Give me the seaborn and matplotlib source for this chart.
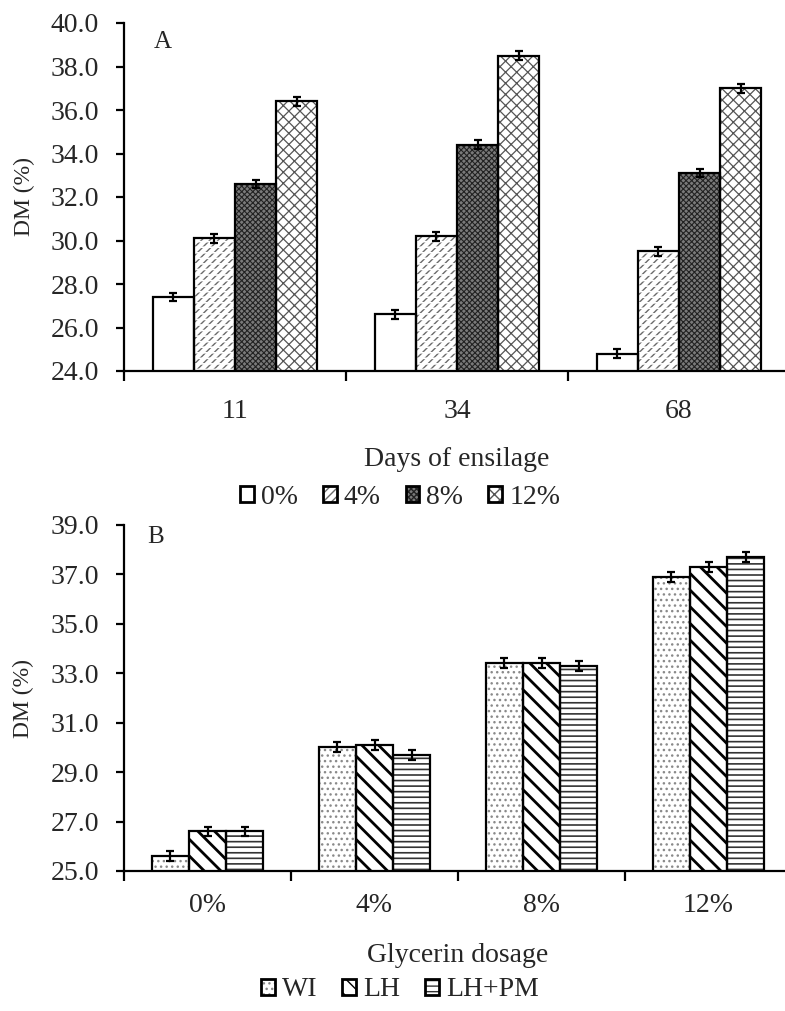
import numpy as np
import pandas as pd
import matplotlib
matplotlib.use("Agg")
import matplotlib.pyplot as plt
import seaborn as sns
from matplotlib.patches import Patch, Rectangle
from matplotlib.ticker import FixedLocator, FixedFormatter, NullFormatter

# ---- data -------------------------------------------------------------
days = ["11", "34", "68"]
levels_a = ["0%", "4%", "8%", "12%"]
dm_0 = [27.4, 26.6, 24.8]
dm_4 = [30.1, 30.2, 29.5]
dm_8 = [32.6, 34.4, 33.1]
dm_12 = [36.4, 38.5, 37.0]
se_a = 0.2

dosages = ["0%", "4%", "8%", "12%"]
treatments = ["WI", "LH", "LH+PM"]
dm_wi = [25.6, 30.0, 33.4, 36.9]
dm_lh = [26.6, 30.1, 33.4, 37.3]
dm_lhpm = [26.6, 29.7, 33.3, 37.7]
se_b = 0.2

yticks_a = [24.0, 26.0, 28.0, 30.0, 32.0, 34.0, 36.0, 38.0, 40.0]
yticks_b = [25.0, 27.0, 29.0, 31.0, 33.0, 35.0, 37.0, 39.0]

df_a = pd.DataFrame({
    "day": days * 4,
    "level": [lv for lv in levels_a for _ in days],
    "dm": dm_0 + dm_4 + dm_8 + dm_12,
})
df_b = pd.DataFrame({
    "dosage": dosages * 3,
    "treat": [t for t in treatments for _ in dosages],
    "dm": dm_wi + dm_lh + dm_lhpm,
})

# ---- style ------------------------------------------------------------
sns.set_theme(style="white")
plt.rcParams["font.family"] = ["Liberation Serif", "DejaVu Serif"]
plt.rcParams["hatch.linewidth"] = 1.0
FS = 20
FS_YLABEL = 17

# fill styles: (face, hatch, hatch colour, hatch lw, breaker hatch)
styles_a = {
    "0%": ("white", None, None, 1.0, None),
    "4%": ("white", "////", "#6a6a6a", 1.0, "---"),
    "8%": ("#7a7a7a", "xxxxxx", "#222222", 0.8, None),
    "12%": ("white", "xxx", "#555555", 0.9, None),
}
styles_b = {
    "WI": ("white", "...", "#8a8a8a", 1.0, None),
    "LH": ("white", "\\\\", "black", 2.0, None),
    "LH+PM": ("white", "---", "#333333", 1.2, None),
}

EDGE_LW = 1.6


def styled_patches(ax, xy, w, h, style, z=2):
    face, hatch, hcol, hlw, breaker = style
    base = Rectangle(xy, w, h, facecolor=face, edgecolor=hcol or face,
                     linewidth=0, hatch=hatch, zorder=z)
    if hasattr(base, "set_hatch_linewidth"):
        base.set_hatch_linewidth(hlw)
    ax.add_patch(base)
    if breaker:
        br = Rectangle(xy, w, h, facecolor="none", edgecolor="white",
                       linewidth=0, hatch=breaker, zorder=z + 0.1)
        if hasattr(br, "set_hatch_linewidth"):
            br.set_hatch_linewidth(1.2)
        ax.add_patch(br)
    edge = Rectangle(xy, w, h, facecolor="none", edgecolor="black",
                     linewidth=EDGE_LW, zorder=z + 0.2)
    ax.add_patch(edge)


def legend_handle(style):
    face, hatch, hcol, hlw, breaker = style
    p1 = Patch(facecolor=face, edgecolor=hcol or face, linewidth=0, hatch=hatch)
    if hasattr(p1, "set_hatch_linewidth"):
        p1.set_hatch_linewidth(hlw)
    p2 = Patch(facecolor="none", edgecolor="black", linewidth=2.0)
    return (p1, p2)


def draw_panel(ax, df, x, hue, order, hue_order, values, se, styles, width,
               ylim, yticks, xlabel, letter, letter_xy, tick_pad, label_pad):
    pal = {h: "white" for h in hue_order}
    sns.barplot(data=df, x=x, y="dm", hue=hue, order=order,
                hue_order=hue_order, palette=pal, width=width, gap=0,
                errorbar=None, legend=False, ax=ax, linewidth=0)
    for hv, cont, vals in zip(hue_order, ax.containers, values):
        xs = []
        for bar in cont:
            bar.set_visible(False)
            styled_patches(ax, bar.get_xy(), bar.get_width(), bar.get_height(),
                           styles[hv])
            xs.append(bar.get_x() + bar.get_width() / 2)
        ax.errorbar(xs, vals, yerr=se, fmt="none", ecolor="black",
                    elinewidth=1.6, capsize=3.2, capthick=1.6, zorder=5)

    n = len(order)
    ax.set_xlim(-0.5, n - 0.5)
    ax.set_ylim(*ylim)
    ax.set_yticks(yticks)
    ax.set_yticklabels([f"{t:.1f}" for t in yticks], fontsize=FS)
    ax.xaxis.set_major_locator(FixedLocator(np.arange(n + 1) - 0.5))
    ax.xaxis.set_major_formatter(NullFormatter())
    ax.xaxis.set_minor_locator(FixedLocator(np.arange(n)))
    ax.xaxis.set_minor_formatter(FixedFormatter(order))
    ax.tick_params(axis="x", which="major", direction="out", length=7,
                   width=1.6, color="black", bottom=True)
    ax.tick_params(axis="x", which="minor", length=0, pad=tick_pad,
                   labelsize=FS, bottom=True)
    ax.tick_params(axis="y", direction="out", length=6, width=1.6,
                   color="black", left=True, pad=12)
    for s in ("top", "right"):
        ax.spines[s].set_visible(False)
    for s in ("left", "bottom"):
        ax.spines[s].set_color("black")
        ax.spines[s].set_linewidth(1.6)
    ax.set_xlabel(xlabel, fontsize=FS, labelpad=label_pad)
    ax.set_ylabel("DM (%)", fontsize=FS_YLABEL)
    ax.yaxis.set_label_coords(-0.134, 0.5)
    ax.text(letter_xy[0], letter_xy[1], letter, transform=ax.transAxes,
            fontsize=FS - 2, ha="left", va="center")


W, H = 785, 1011
fig = plt.figure(figsize=(W / 100, H / 100), dpi=100)

ax_a = fig.add_axes([124 / W, 1 - 371 / H, 666 / W, 348 / H])
draw_panel(ax_a, df_a, "day", "level", days, levels_a,
           [dm_0, dm_4, dm_8, dm_12], se_a, styles_a, 0.74,
           (24, 40), yticks_a, "Days of ensilage", "A", (0.045, 0.945),
           20, 17)

ax_b = fig.add_axes([124 / W, 1 - 871 / H, 668 / W, 346 / H])
draw_panel(ax_b, df_b, "dosage", "treat", dosages, treatments,
           [dm_wi, dm_lh, dm_lhpm], se_b, styles_b, 0.665,
           (25, 39), yticks_b, "Glycerin dosage", "B", (0.035, 0.965),
           16, 18)

fig.legend([legend_handle(styles_a[l]) for l in levels_a], levels_a,
           loc="center", bbox_to_anchor=(400 / W, 1 - 497 / H), ncol=4,
           frameon=False, fontsize=FS, handlelength=0.5, handleheight=0.5,
           handletextpad=0.25, columnspacing=0.9)
fig.legend([legend_handle(styles_b[t]) for t in treatments], treatments,
           loc="center", bbox_to_anchor=(400 / W, 1 - 990 / H), ncol=3,
           frameon=False, fontsize=FS, handlelength=0.5, handleheight=0.5,
           handletextpad=0.25, columnspacing=0.9)

fig.savefig("out.png", dpi=100)
